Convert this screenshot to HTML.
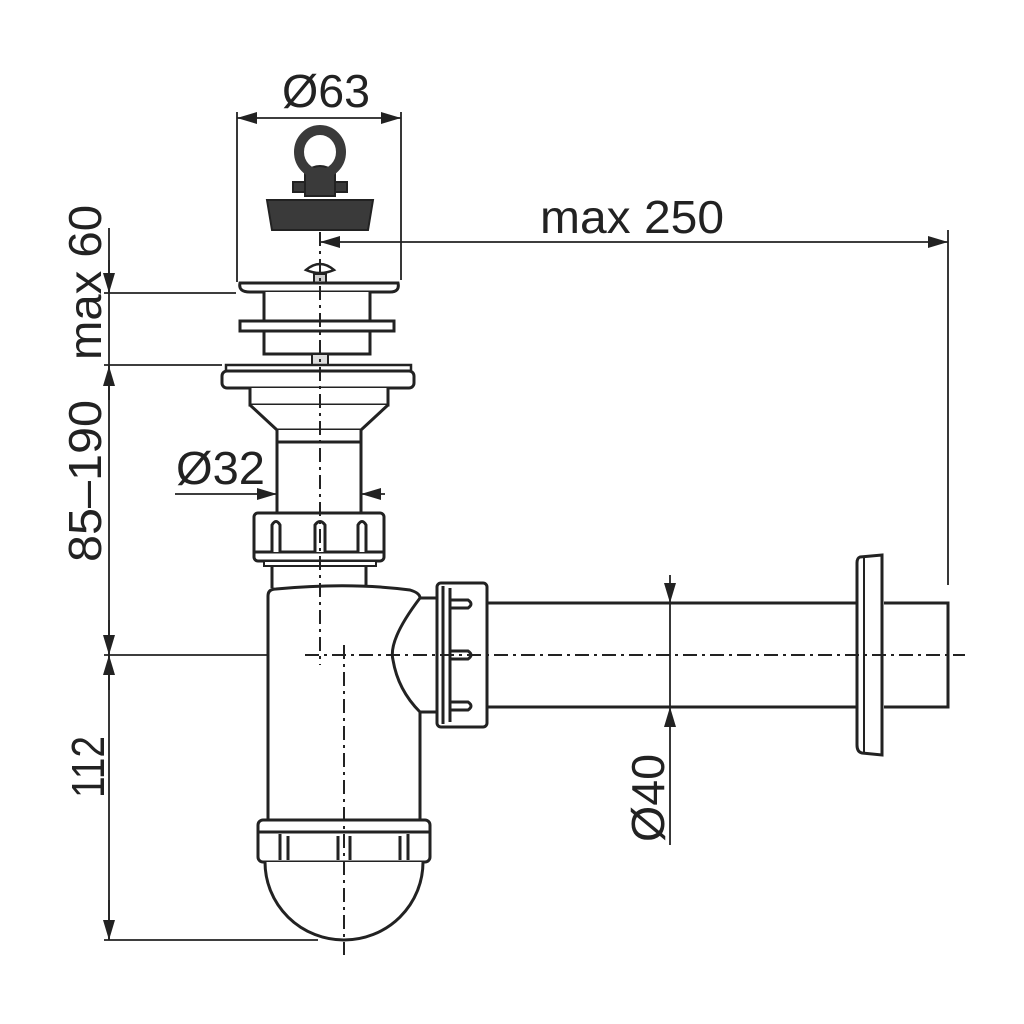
<!DOCTYPE html>
<html><head><meta charset="utf-8"><style>
html,body{margin:0;padding:0;background:#fff;}
svg{display:block}
text{font-family:"Liberation Sans",sans-serif;fill:#222;}
</style></head><body>
<svg width="1024" height="1024" viewBox="0 0 1024 1024" xmlns="http://www.w3.org/2000/svg">
<defs>
<marker id="a" viewBox="0 0 20 12" refX="20" refY="6" markerWidth="20" markerHeight="12" markerUnits="userSpaceOnUse" orient="auto"><path d="M0,0 L20,6 L0,12 Z" fill="#222"/></marker>
</defs>
<g stroke="#222" fill="none">
<g stroke-width="1.8">
<line x1="237" y1="112" x2="237" y2="282"/>
<line x1="401" y1="112" x2="401" y2="280"/>
<line x1="320" y1="118" x2="237" y2="118" marker-end="url(#a)"/>
<line x1="320" y1="118" x2="401" y2="118" marker-end="url(#a)"/>
<line x1="948" y1="230" x2="948" y2="585"/>
<line x1="620" y1="242" x2="320" y2="242" marker-end="url(#a)"/>
<line x1="620" y1="242" x2="948" y2="242" marker-end="url(#a)"/>
<line x1="175" y1="494" x2="277" y2="494" marker-end="url(#a)"/>
<line x1="385" y1="494" x2="361" y2="494" marker-end="url(#a)"/>
<line x1="670" y1="575" x2="670" y2="603" marker-end="url(#a)"/>
<line x1="670" y1="845" x2="670" y2="707" marker-end="url(#a)"/>
<line x1="670" y1="603" x2="670" y2="707"/>
<line x1="109" y1="228" x2="109" y2="940"/>
<line x1="109" y1="260" x2="109" y2="293" marker-end="url(#a)"/>
<line x1="109" y1="400" x2="109" y2="366" marker-end="url(#a)"/>
<line x1="109" y1="620" x2="109" y2="655" marker-end="url(#a)"/>
<line x1="109" y1="690" x2="109" y2="655" marker-end="url(#a)"/>
<line x1="109" y1="900" x2="109" y2="940" marker-end="url(#a)"/>
<line x1="104" y1="293" x2="236" y2="293"/>
<line x1="104" y1="365" x2="222" y2="365"/>
<line x1="104" y1="655" x2="305" y2="655"/>
<line x1="104" y1="940" x2="318" y2="940"/>
</g>
<g fill="#3a3a3a" stroke="#222" stroke-width="2">
<path d="M267,200 L373,200 L368,230 L272,230 Z"/>
<path d="M293,182 h54 v10 h-54 Z"/>
<path d="M305,196 L305,172 Q320,160 335,172 L335,196 Z"/>
</g>
<ellipse cx="320" cy="152" rx="21" ry="22" stroke="#3a3a3a" stroke-width="10"/>
<path d="M306,270 Q320,258 334,270 Q320,276 306,270 Z" stroke-width="2.5" fill="#fff"/>
<rect x="314" y="274" width="12" height="9" stroke-width="2" fill="#ccc"/>
<g stroke-width="3" fill="#fff">
<path d="M240,283 L398,283 Q400,292 390,292 L250,292 Q238,292 240,283 Z"/>
<path d="M264,292 L264,354 L370,354 L370,292"/>
<rect x="240" y="321" width="154" height="10"/>
<rect x="312" y="354" width="16" height="11" fill="#ddd" stroke-width="2"/>
<path d="M226,365 L411,365 L411,371 L226,371 Z" stroke-width="2.5"/>
<rect x="222" y="371" width="192" height="17" rx="5"/>
<path d="M250,388 L250,405 L388,405 L388,388"/>
<path d="M250,405 L277,430 L361,430 L388,405"/>
<path d="M277,430 L277,442 L361,442 L361,430"/>
<line x1="277" y1="442" x2="277" y2="515"/>
<line x1="361" y1="442" x2="361" y2="515"/>
<rect x="254" y="513" width="130" height="48" rx="4"/>
<line x1="254" y1="552" x2="384" y2="552"/>
<path d="M272,552 L272,525 Q276,518 280,525 L280,552 M315,552 L315,525 Q320,518 325,525 L325,552 M358,552 L358,525 Q362,518 366,525 L366,552"/>
<rect x="264" y="561" width="112" height="5" stroke-width="2"/>
<line x1="272" y1="566" x2="272" y2="588"/>
<line x1="366" y1="566" x2="366" y2="585"/>
<path d="M268,820 L268,596 Q268,589 276,589 Q350,582 410,590 Q420,593 420,598 Q388,640 393,660 Q398,690 420,712 L420,820"/>
<line x1="420" y1="598" x2="437" y2="598"/>
<line x1="420" y1="712" x2="437" y2="712"/>
<rect x="437" y="583" width="50" height="144" rx="4"/>
<line x1="443" y1="586" x2="443" y2="724"/>
<path d="M450,588 L450,722 M450,600 L468,600 Q474,604 468,608 L450,608 M450,651 L468,651 Q474,655 468,659 L450,659 M450,702 L468,702 Q474,706 468,710 L450,710"/>
<line x1="487" y1="603" x2="857" y2="603"/>
<line x1="487" y1="707" x2="857" y2="707"/>
<path d="M860,557 L882,555 L882,755 L862,753 Q857,752 857,745 L857,563 Q857,558 860,557 Z"/>
<line x1="864" y1="558" x2="864" y2="753" stroke-width="2"/>
<path d="M884,603 L948,603 L948,707 L884,707"/>
<rect x="258" y="820" width="172" height="42" rx="5"/>
<line x1="258" y1="832" x2="430" y2="832"/>
<path d="M280,834 L280,860 M288,836 L288,860 M338,836 L338,860 M350,836 L350,860 M400,836 L400,860 M408,834 L408,860"/>
<path d="M265,862 A79,78 0 0 0 423,862"/>
</g>
<g stroke-width="2" stroke-dasharray="14,5,3,5">
<line x1="320" y1="232" x2="320" y2="665"/>
<line x1="344" y1="645" x2="344" y2="955"/>
<line x1="305" y1="655" x2="965" y2="655"/>
</g>
</g>
<text x="282" y="107" font-size="46" textLength="88" lengthAdjust="spacingAndGlyphs">Ø63</text>
<text x="540" y="233" font-size="46" textLength="184" lengthAdjust="spacingAndGlyphs">max 250</text>
<text x="176" y="484" font-size="46" textLength="89" lengthAdjust="spacingAndGlyphs">Ø32</text>
<text transform="translate(101,360) rotate(-90)" font-size="46" textLength="155" lengthAdjust="spacingAndGlyphs">max 60</text>
<text transform="translate(101,562) rotate(-90)" font-size="46" textLength="162" lengthAdjust="spacingAndGlyphs">85–190</text>
<text transform="translate(104,798) rotate(-90)" font-size="46" textLength="62" lengthAdjust="spacingAndGlyphs">112</text>
<text transform="translate(664,842) rotate(-90)" font-size="46" textLength="88" lengthAdjust="spacingAndGlyphs">Ø40</text>
</svg>
</body></html>
